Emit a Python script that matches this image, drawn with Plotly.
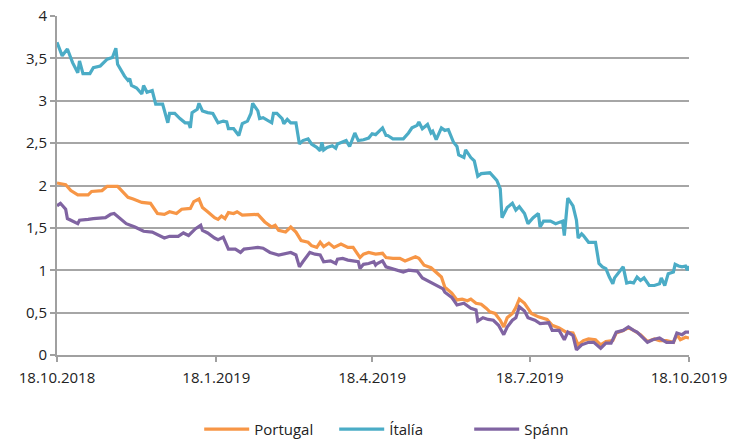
import pandas as pd
import plotly.graph_objects as go

START = "2018-10-18"

# Day offsets from 18.10.2018 and yields (%)
italia_days = [0, 3, 6, 9, 12, 13, 15, 19, 21, 25, 29, 32, 34, 35, 39, 41, 42, 43, 46, 49, 50, 52, 55, 57, 61, 64, 65, 68, 71, 74, 76, 77, 78, 81, 82, 84, 87, 90, 93, 96, 98, 99, 102, 105, 107, 110, 112, 113, 116, 117, 119, 122, 124, 125, 127, 130, 131, 133, 135, 138, 140, 142, 145, 147, 150, 152, 153, 154, 156, 159, 161, 162, 167, 169, 172, 174, 177, 180, 182, 184, 188, 190, 191, 194, 200, 203, 205, 208, 209, 211, 214, 216, 217, 219, 222, 224, 226, 229, 231, 232, 235, 236, 239, 241, 243, 245, 250, 254, 256, 257, 260, 263, 265, 267, 270, 272, 275, 278, 279, 281, 285, 288, 292, 293, 295, 298, 300, 301, 303, 304, 307, 311, 313, 315, 317, 319, 321, 322, 324, 327, 329, 331, 333, 335, 337, 339, 342, 345, 348, 349, 351, 353, 356, 357, 359, 361, 363, 364, 365]
italia_vals = [3.69, 3.53, 3.61, 3.45, 3.33, 3.47, 3.32, 3.32, 3.39, 3.41, 3.49, 3.51, 3.62, 3.43, 3.29, 3.24, 3.26, 3.18, 3.15, 3.08, 3.18, 3.10, 3.12, 2.96, 2.96, 2.74, 2.85, 2.85, 2.79, 2.74, 2.74, 2.68, 2.86, 2.90, 2.97, 2.88, 2.86, 2.85, 2.74, 2.76, 2.75, 2.67, 2.67, 2.59, 2.73, 2.76, 2.85, 2.97, 2.88, 2.79, 2.80, 2.76, 2.74, 2.85, 2.85, 2.79, 2.73, 2.78, 2.74, 2.74, 2.49, 2.53, 2.55, 2.49, 2.45, 2.41, 2.51, 2.42, 2.45, 2.47, 2.44, 2.49, 2.53, 2.46, 2.62, 2.53, 2.54, 2.56, 2.61, 2.60, 2.68, 2.59, 2.59, 2.55, 2.55, 2.62, 2.68, 2.71, 2.75, 2.67, 2.72, 2.62, 2.64, 2.54, 2.68, 2.65, 2.66, 2.51, 2.46, 2.36, 2.33, 2.42, 2.33, 2.29, 2.11, 2.14, 2.15, 2.06, 1.96, 1.62, 1.74, 1.79, 1.71, 1.75, 1.67, 1.55, 1.62, 1.67, 1.51, 1.58, 1.58, 1.55, 1.58, 1.41, 1.85, 1.76, 1.59, 1.38, 1.43, 1.41, 1.33, 1.33, 1.08, 1.04, 1.02, 0.92, 0.84, 0.91, 0.96, 1.04, 0.85, 0.86, 0.85, 0.92, 0.88, 0.91, 0.82, 0.82, 0.84, 0.91, 0.82, 0.96, 0.98, 1.07, 1.05, 1.04, 1.05, 1.00, 1.05]

portugal_days = [0, 5, 8, 12, 18, 20, 26, 29, 35, 38, 41, 44, 49, 54, 56, 58, 62, 65, 69, 72, 77, 79, 82, 84, 87, 91, 93, 95, 97, 99, 102, 104, 107, 116, 120, 124, 126, 128, 132, 135, 138, 141, 145, 147, 150, 152, 154, 157, 160, 164, 168, 171, 175, 177, 180, 183, 184, 188, 190, 194, 198, 201, 204, 207, 209, 212, 216, 220, 222, 224, 228, 231, 234, 237, 239, 242, 245, 248, 250, 253, 256, 258, 260, 263, 265, 267, 270, 272, 274, 278, 283, 286, 290, 294, 298, 301, 304, 307, 311, 314, 317, 321, 323, 327, 330, 333, 337, 341, 345, 348, 352, 356, 358, 360, 363, 365]
portugal_vals = [2.03, 2.01, 1.94, 1.89, 1.89, 1.93, 1.94, 1.99, 1.99, 1.92, 1.86, 1.84, 1.80, 1.79, 1.73, 1.67, 1.66, 1.69, 1.67, 1.72, 1.73, 1.81, 1.84, 1.74, 1.69, 1.62, 1.60, 1.64, 1.61, 1.68, 1.67, 1.69, 1.65, 1.66, 1.57, 1.51, 1.53, 1.47, 1.45, 1.51, 1.45, 1.35, 1.33, 1.29, 1.27, 1.33, 1.28, 1.32, 1.27, 1.31, 1.27, 1.27, 1.15, 1.19, 1.21, 1.19, 1.19, 1.20, 1.15, 1.14, 1.14, 1.11, 1.14, 1.16, 1.14, 1.06, 1.03, 0.96, 0.92, 0.80, 0.73, 0.65, 0.66, 0.64, 0.66, 0.61, 0.60, 0.55, 0.51, 0.49, 0.41, 0.33, 0.44, 0.49, 0.56, 0.66, 0.61, 0.55, 0.49, 0.45, 0.42, 0.35, 0.32, 0.27, 0.26, 0.12, 0.17, 0.19, 0.18, 0.12, 0.16, 0.17, 0.26, 0.29, 0.32, 0.29, 0.24, 0.16, 0.19, 0.17, 0.17, 0.15, 0.24, 0.18, 0.21, 0.20]

spann_days = [0, 2, 5, 6, 12, 13, 18, 21, 28, 31, 33, 36, 40, 45, 50, 55, 58, 62, 65, 70, 73, 76, 80, 83, 84, 87, 91, 93, 94, 96, 99, 103, 106, 108, 112, 116, 119, 123, 128, 132, 135, 138, 140, 142, 146, 149, 152, 154, 158, 161, 162, 165, 168, 174, 175, 177, 180, 183, 184, 185, 188, 190, 195, 200, 203, 208, 211, 215, 217, 220, 223, 224, 228, 231, 235, 239, 242, 243, 246, 249, 252, 255, 258, 260, 263, 265, 267, 270, 272, 276, 279, 284, 286, 290, 293, 295, 298, 300, 303, 307, 310, 314, 317, 320, 323, 327, 330, 333, 335, 338, 341, 344, 348, 352, 356, 358, 361, 363, 365]
spann_vals = [1.76, 1.79, 1.72, 1.61, 1.55, 1.59, 1.60, 1.61, 1.62, 1.66, 1.67, 1.62, 1.55, 1.51, 1.46, 1.45, 1.42, 1.38, 1.40, 1.40, 1.44, 1.41, 1.49, 1.53, 1.47, 1.44, 1.38, 1.36, 1.37, 1.39, 1.25, 1.25, 1.21, 1.25, 1.26, 1.27, 1.26, 1.21, 1.18, 1.20, 1.21, 1.18, 1.04, 1.10, 1.21, 1.19, 1.18, 1.10, 1.11, 1.08, 1.13, 1.14, 1.12, 1.10, 1.02, 1.07, 1.08, 1.10, 1.06, 1.08, 1.11, 1.04, 1.01, 0.98, 1.00, 0.99, 0.91, 0.87, 0.85, 0.82, 0.78, 0.74, 0.68, 0.59, 0.61, 0.55, 0.53, 0.40, 0.44, 0.42, 0.41, 0.35, 0.24, 0.33, 0.41, 0.44, 0.57, 0.52, 0.44, 0.41, 0.37, 0.38, 0.29, 0.29, 0.18, 0.27, 0.23, 0.06, 0.12, 0.15, 0.15, 0.08, 0.14, 0.14, 0.27, 0.29, 0.33, 0.29, 0.27, 0.21, 0.15, 0.18, 0.20, 0.15, 0.15, 0.26, 0.24, 0.27, 0.27]

tick_dates = ["2018-10-18", "2019-01-18", "2019-04-18", "2019-07-18", "2019-10-18"]
tick_labels = ["18.10.2018", "18.1.2019", "18.4.2019", "18.7.2019", "18.10.2019"]
y_ticks = [0, 0.5, 1, 1.5, 2, 2.5, 3, 3.5, 4]


def to_dates(days):
    return pd.Timestamp(START) + pd.to_timedelta(days, unit="D")


# (name, days, values, colour, legend rank); drawn Italy, Portugal, Spain
series = [
    ("Ítalía", italia_days, italia_vals, "#4BACC6", 2),
    ("Portugal", portugal_days, portugal_vals, "#F79646", 1),
    ("Spánn", spann_days, spann_vals, "#8064A2", 3),
]

fig = go.Figure()
for name, d, v, c, rank in series:
    fig.add_trace(go.Scatter(x=to_dates(d), y=v, name=name, mode="lines",
                             legendrank=rank,
                             line=dict(color=c, width=3.2)))

FONT = "'Open Sans', sans-serif"
fig.update_layout(
    width=735, height=439,
    margin=dict(l=57, r=46, t=16, b=84, autoexpand=False),
    paper_bgcolor="white", plot_bgcolor="white",
    separators=", ",
    font=dict(family=FONT, size=15, color="#222222"),
    showlegend=True,
    legend=dict(orientation="h", x=0.225, xanchor="left",
                yref="container", y=0.022, yanchor="middle",
                font=dict(size=15), itemwidth=45,
                entrywidth=75, entrywidthmode="pixels",
                tracegroupgap=0, bgcolor="rgba(0,0,0,0)"),
)
fig.update_xaxes(
    type="date", range=[tick_dates[0], tick_dates[-1]],
    tickvals=tick_dates, ticktext=tick_labels, automargin=False,
    showgrid=False, zeroline=False,
    showline=True, linecolor="#A0A0A0", linewidth=2,
    ticks="outside", ticklen=5, tickcolor="#A0A0A0", tickwidth=2,
    ticklabelstandoff=3, ticklabeloverflow="allow",
    tickfont=dict(size=15),
)
fig.update_yaxes(
    range=[0, 4], tickvals=y_ticks, automargin=False,
    showgrid=True, gridcolor="#A6A6A6", gridwidth=1.5,
    zeroline=False,
    showline=True, linecolor="#A0A0A0", linewidth=2,
    ticks="outside", ticklen=5, tickcolor="#A0A0A0", tickwidth=1.5,
    ticklabeloverflow="allow",
    tickfont=dict(size=15),
)

# remove the default 8px page margin so the figure fills the window exactly
fig.write_html("out.html", config={"displayModeBar": False},
               post_script="document.body.style.margin='0';")
